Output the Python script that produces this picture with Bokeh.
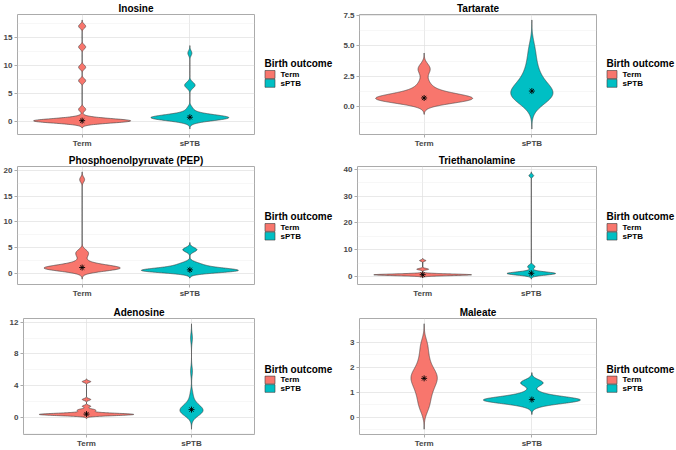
import numpy as np
from bokeh.plotting import figure
from bokeh.layouts import column, row
from bokeh.models import Range1d, FixedTicker
from bokeh.core.properties import value
from bokeh.embed import file_html
from bokeh.resources import INLINE

# ---------------- data ----------------
CATEGORIES = ["Term", "sPTB"]
GROUP_COLORS = ["#F8766D", "#00BFC4"]
LEGEND_TITLE = "Birth outcome"
TITLES = ["Inosine", "Tartarate", "Phosphoenolpyruvate (PEP)",
          "Triethanolamine", "Adenosine", "Maleate"]

INOSINE_TERM = [0.0, 0.02, 0.04, 0.06, 0.08, 0.1, 0.12, 0.13, 0.15, 0.18,
                0.2, 0.25, 0.3, 0.45, 0.7, 2.2, 7.3, 9.7, 13.3, 17.0]
INOSINE_SPTB = [0.05, 0.25, 0.35, 0.45, 0.5, 0.55, 0.6, 0.62, 0.65, 0.68,
                0.7, 0.72, 0.75, 0.78, 0.8, 0.82, 0.85, 0.9, 0.95, 1.0, 1.1,
                1.2, 1.4, 1.8, 2.4, 6.2, 6.5, 6.8, 12.2]
TARTARATE_TERM = [0.45, 0.5, 0.52, 0.55, 0.57, 0.6, 0.6, 0.62, 0.63, 0.65,
                  0.65, 0.67, 0.7, 0.7, 0.72, 0.75, 0.78, 0.8, 0.85, 0.9,
                  1.0, 1.1, 1.2, 1.35, 1.55, 1.8, 2.2, 2.85, 3.1, 3.35]
TARTARATE_SPTB = [0.3, 0.5, 0.6, 0.7, 0.8, 0.9, 1.0, 1.1, 1.15, 1.2, 1.25,
                  1.3, 1.45, 1.6, 1.8, 2.0, 2.25, 2.5, 2.8, 3.2, 3.7, 4.3,
                  5.0]
PEP_TERM = [0.4, 0.6, 0.7, 0.8, 0.85, 0.9, 0.95, 1.0, 1.0, 1.05, 1.1, 1.1,
            1.15, 1.2, 1.3, 1.4, 1.5, 1.7, 1.9, 2.2, 3.0, 3.6, 4.0, 4.4, 18.2]
PEP_SPTB = [0.3, 0.3, 0.35, 0.4, 0.4, 0.45, 0.45, 0.5, 0.5, 0.55, 0.55, 0.6,
            0.6, 0.65, 0.7, 0.7, 0.75, 0.8, 0.9, 1.0, 1.1, 1.2, 1.35, 1.5,
            1.7, 1.9, 2.1, 4.4, 4.6, 4.8]
TRIETHANOLAMINE_TERM = [0.35, 0.4, 0.45, 0.5, 0.5, 0.55, 0.55, 0.6, 0.6, 0.6,
                        0.65, 0.65, 0.7, 0.7, 0.75, 0.8, 0.9, 1.0, 2.6, 2.8,
                        5.9]
TRIETHANOLAMINE_SPTB = [0.4, 0.7, 0.8, 0.9, 1.0, 1.05, 1.1, 1.15, 1.2, 1.3,
                        1.4, 1.6, 2.0, 3.3, 4.0, 37.6]
ADENOSINE_TERM = [0.2, 0.25, 0.3, 0.3, 0.32, 0.35, 0.35, 0.38, 0.4, 0.4,
                  0.42, 0.45, 0.5, 0.55, 0.75, 0.9, 1.0, 1.4, 2.25, 4.5]
ADENOSINE_SPTB = [0.3, 0.5, 0.6, 0.7, 0.75, 0.8, 0.85, 0.9, 0.95, 1.0, 1.1,
                  1.2, 1.4, 1.7, 2.2, 3.0, 5.8, 10.0]
MALEATE_TERM = [0.35, 0.65, 0.95, 1.15, 1.35, 1.5, 1.6, 1.7, 1.85, 2.1, 2.45,
                2.9]
MALEATE_SPTB = [0.46, 0.55, 0.6, 0.63, 0.65, 0.66, 0.67, 0.68, 0.69, 0.7,
                0.71, 0.73, 0.76, 0.8, 0.88, 1.0, 1.3, 1.38, 1.42]

GROUP_VALUES = [
    [INOSINE_TERM, INOSINE_SPTB],
    [TARTARATE_TERM, TARTARATE_SPTB],
    [PEP_TERM, PEP_SPTB],
    [TRIETHANOLAMINE_TERM, TRIETHANOLAMINE_SPTB],
    [ADENOSINE_TERM, ADENOSINE_SPTB],
    [MALEATE_TERM, MALEATE_SPTB],
]
# kernel bandwidths per group (estimated from the violin tails)
BANDWIDTHS = [[0.37, 0.45], [0.35, 0.7], [0.5, 0.4],
              [0.27, 0.47], [0.12, 0.6], [0.28, 0.12]]

Y_TICKS = [[0, 5, 10, 15], [0, 2.5, 5, 7.5], [0, 5, 10, 15, 20],
           [0, 10, 20, 30, 40], [0, 4, 8, 12], [0, 1, 2, 3]]
Y_TICK_LABELS = [["0", "5", "10", "15"], ["0.0", "2.5", "5.0", "7.5"],
                 ["0", "5", "10", "15", "20"], ["0", "10", "20", "30", "40"],
                 ["0", "4", "8", "12"], ["0", "1", "2", "3"]]

# ---------------- layout / style ----------------
FONT = "Liberation Sans"
PLOT_W = [256, 262]          # left column, right column
LEG_W = [80, 78]
ROW_H = [150, 150, 150]
# left, top, bottom borders of each panel
BORDERS = [(13, 0, 16), (23, 0, 16),
           (13, 16, 13), (21, 16, 13),
           (23, 18, 11), (23, 18, 11)]
FRAME_TOP = [14, 14, 16, 16, 18, 18]


def kde(values, h, n=512):
    v = np.asarray(values, dtype=float)
    y = np.linspace(v.min() - 3 * h, v.max() + 3 * h, n)
    d = np.exp(-0.5 * ((y[:, None] - v[None, :]) / h) ** 2).sum(axis=1)
    d /= len(v) * h * np.sqrt(2 * np.pi)
    return y, d


def make_panel(i):
    vals = GROUP_VALUES[i]
    dens = [kde(v, h) for v, h in zip(vals, BANDWIDTHS[i])]
    dmax = max(d.max() for _, d in dens)
    lo = min(y.min() for y, _ in dens)
    hi = max(y.max() for y, _ in dens)
    pad = 0.05 * (hi - lo)
    bl, bt, bb = BORDERS[i]
    H = ROW_H[i // 2]
    col = i % 2
    p = figure(width=PLOT_W[col], height=H,
               x_range=Range1d(0.4, 2.6),
               y_range=Range1d(float(lo - pad), float(hi + pad)),
               output_backend="svg", toolbar_location=None,
               min_border_left=bl, min_border_right=2,
               min_border_top=bt, min_border_bottom=bb,
               background_fill_color="white", border_fill_color="white",
               outline_line_color="#ABABAB", outline_line_width=1)
    p.title.text = TITLES[i]
    p.title.align = "center"
    p.title.text_font = FONT
    p.title.text_font_size = "10px"
    p.title.text_font_style = "bold"
    p.title.text_color = "black"
    p.title.standoff = 1

    ticks = Y_TICKS[i]
    step = ticks[1] - ticks[0]
    minors = [t - step / 2 for t in ticks] + [ticks[-1] + step / 2]
    yt = FixedTicker(ticks=ticks, minor_ticks=minors)
    p.yaxis.ticker = yt
    p.ygrid.ticker = yt
    p.yaxis.major_label_overrides = {t: lab for t, lab in zip(ticks, Y_TICK_LABELS[i])}
    xt = FixedTicker(ticks=[1, 2])
    p.xaxis.ticker = xt
    p.xgrid.ticker = xt
    p.xaxis.major_label_overrides = {1: CATEGORIES[0], 2: CATEGORIES[1]}

    for ax in (p.xaxis, p.yaxis):
        ax.axis_line_color = None
        ax.major_tick_line_color = "#ABABAB"
        ax.major_tick_out = 3
        ax.major_tick_in = 0
        ax.minor_tick_line_color = None
        ax.major_label_text_font = FONT
        ax.major_label_text_font_size = "8px"
        ax.major_label_text_font_style = "bold"
        ax.major_label_text_color = "#474747"
        ax.major_label_text_line_height = 1.0
        ax.major_label_standoff = 1
    p.grid.grid_line_color = "#E0E0E0"
    p.grid.grid_line_width = 0.7
    p.ygrid.minor_grid_line_color = "#EFEFEF"
    p.ygrid.minor_grid_line_width = 0.5

    for j, (y, d) in enumerate(dens):
        c = j + 1
        hw = 0.45 * d / dmax
        xs = np.concatenate([c + hw, (c - hw)[::-1]]).tolist()
        ys = np.concatenate([y, y[::-1]]).tolist()
        p.patch(xs, ys, fill_color=GROUP_COLORS[j], line_color="#3A3A3A",
                line_width=0.6)
        p.scatter([c], [float(np.median(vals[j]))], marker="asterisk", size=6,
                  line_color="black", line_width=0.9)

    # legend drawn in its own small canvas (pixel coordinates, y from top)
    lw = LEG_W[col]
    lg = figure(width=lw, height=H, x_range=Range1d(0, lw),
                y_range=Range1d(H, 0), output_backend="svg",
                toolbar_location=None, min_border=0,
                x_axis_type=None, y_axis_type=None,
                outline_line_color=None, background_fill_color="white",
                border_fill_color="white")
    cy = (FRAME_TOP[i] + H - bb) / 2.0
    lg.text(x=[8], y=[cy - 13], text=[LEGEND_TITLE], text_font=value(FONT),
            text_font_size="10px", text_font_style="bold",
            text_baseline="middle", text_align="left", text_color="black")
    key_y = [cy + 1, cy + 12]
    lg.rect(x=[13.5, 13.5], y=key_y, width=10, height=10,
            fill_color=GROUP_COLORS, line_color="#3A3A3A", line_width=0.6)
    lg.text(x=[24, 24], y=key_y, text=CATEGORIES, text_font=value(FONT),
            text_font_size="8px", text_font_style="bold",
            text_baseline="middle", text_align="left", text_color="black")
    return row(p, lg)


panels = [make_panel(i) for i in range(6)]
layout = column(row(panels[0], panels[1]), row(panels[2], panels[3]),
                row(panels[4], panels[5]))

open("out.html", "w").write(file_html(layout, INLINE))
